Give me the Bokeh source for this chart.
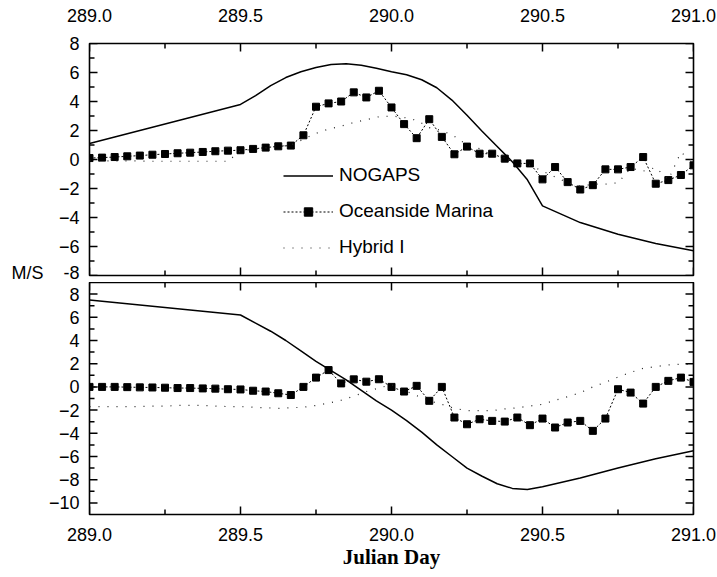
from bokeh.plotting import figure
from bokeh.layouts import column
from bokeh.models import FixedTicker, Legend, LegendItem, Range1d, NumeralTickFormatter
from bokeh.embed import file_html
from bokeh.resources import INLINE

# ---------------- data ----------------
hours = list(range(49))                      # hourly observations, day 289.0 .. 291.0
obs_days = [289 + h / 24 for h in hours]

x_lo, x_hi = 289.0, 291.0
x_ticks = [289.0, 289.5, 290.0, 290.5, 291.0]
x_minor = [289.25, 289.75, 290.25, 290.75]

top_lo, top_hi = -8, 8
top_yticks = [-8, -6, -4, -2, 0, 2, 4, 6, 8]
top_yminor = [-7, -5, -3, -1, 1, 3, 5, 7]
bot_lo, bot_hi = -11, 9
bot_yticks = [-10, -8, -6, -4, -2, 0, 2, 4, 6, 8]
bot_yminor = [-9, -7, -5, -3, -1, 1, 3, 5, 7]

nogaps_days = [289.0, 289.5, 289.55, 289.6, 289.65, 289.7, 289.75, 289.8, 289.85, 289.9,
               289.95, 290.0, 290.05, 290.1, 290.15, 290.2, 290.25, 290.3, 290.35, 290.4,
               290.45, 290.5, 290.625, 290.75, 290.875, 291.0]

# upper panel
top_nogaps = [1.1, 3.8, 4.4, 5.1, 5.65, 6.05, 6.35, 6.55, 6.6, 6.5,
              6.3, 6.05, 5.85, 5.5, 4.95, 4.1, 3.05, 1.95, 0.9, -0.15,
              -1.4, -3.2, -4.35, -5.15, -5.8, -6.3]
top_ocean = [0.1, 0.13, 0.17, 0.22, 0.27, 0.33, 0.38, 0.43, 0.47, 0.52,
             0.57, 0.61, 0.64, 0.73, 0.82, 0.91, 0.96, 1.67, 3.64, 3.87,
             4.0, 4.63, 4.28, 4.74, 3.59, 2.44, 1.47, 2.78, 1.56, 0.36,
             0.89, 0.4, 0.4, 0.06, -0.27, -0.27, -1.37, -0.52, -1.56, -2.07,
             -1.77, -0.68, -0.68, -0.52, 0.17, -1.67, -1.42, -1.07, -0.4]
top_hybrid = [-0.05, -0.1, -0.1, -0.1, -0.1, -0.12, -0.12, -0.12, -0.12, -0.12,
              -0.12, -0.12, 0.6, 0.7, 0.8, 0.9, 1.0, 1.4, 1.8, 2.1,
              2.3, 2.55, 2.75, 2.95, 3.0, 2.9, 2.7, 2.2, 2.0, 1.6,
              1.0, 0.75, 0.3, 0.1, -0.3, -0.4, -0.8, -1.2, -1.6, -1.85,
              -1.7, -1.7, -1.6, -0.6, -0.8, -0.55, -1.4, 0.5, -0.2]

# lower panel
bot_nogaps = [7.5, 6.2, 5.5, 4.8, 4.0, 3.1, 2.2, 1.4, 0.6, -0.3,
              -1.2, -2.0, -2.9, -3.9, -5.0, -6.0, -7.0, -7.7, -8.35, -8.75,
              -8.85, -8.6, -7.85, -7.0, -6.2, -5.5]
bot_ocean = [0.0, 0.0, 0.0, -0.02, -0.04, -0.05, -0.07, -0.1, -0.1, -0.13,
             -0.15, -0.2, -0.22, -0.33, -0.4, -0.55, -0.7, 0.0, 0.8, 1.45,
             0.3, 0.65, 0.45, 0.66, 0.0, -0.4, 0.09, -1.2, 0.0, -2.64,
             -3.22, -2.79, -2.93, -2.99, -2.64, -3.3, -2.73, -3.5, -3.07, -2.93,
             -3.79, -2.73, -0.2, -0.49, -1.44, 0.0, 0.52, 0.8, 0.43]
bot_hybrid = [-1.7, -1.7, -1.7, -1.7, -1.7, -1.65, -1.65, -1.6, -1.6, -1.6,
              -1.65, -1.7, -1.7, -1.75, -1.8, -1.85, -1.8, -1.75, -1.6, -1.4,
              -1.15, -0.8, -0.4, -0.1, 0.2, -0.3, -0.75, -1.2, -1.5, -1.85,
              -2.05, -2.05, -2.05, -1.9, -1.8, -1.65, -1.5, -1.15, -0.85, -0.5,
              0.0, 0.4, 0.85, 1.25, 1.6, 1.75, 1.9, 1.95, 1.95]

FONT = "Liberation Sans"
TICK_PX = "18px"
FRAME_W, FRAME_H = 604, 232      # plot-area size in px (used for tick lengths)


def style_axis(ax, standoff):
    ax.axis_line_color = None
    ax.major_tick_in = 0
    ax.major_tick_out = 0
    ax.minor_tick_in = 0
    ax.minor_tick_out = 0
    ax.major_label_text_font = FONT
    ax.major_label_text_font_size = TICK_PX
    ax.major_label_text_color = "black"
    ax.major_label_standoff = standoff


def draw_ticks(p, ylo, yhi, yticks, yminor):
    # inward tick marks on all four frame edges
    dy = (yhi - ylo) / FRAME_H
    dx = (x_hi - x_lo) / FRAME_W
    for xs, L in ((x_ticks, 8), (x_minor, 5)):
        n = len(xs)
        p.segment(x0=xs + xs, x1=xs + xs,
                  y0=[ylo] * n + [yhi] * n,
                  y1=[ylo + L * dy] * n + [yhi - L * dy] * n,
                  line_color="black", line_width=1.5)
    for ys, L in ((yticks, 8), (yminor, 5)):
        n = len(ys)
        p.segment(y0=ys + ys, y1=ys + ys,
                  x0=[x_lo] * n + [x_hi] * n,
                  x1=[x_lo + L * dx] * n + [x_hi - L * dx] * n,
                  line_color="black", line_width=1.5)


def make_panel(height, ylo, yhi, yticks, yminor, top, min_top, min_bottom):
    p = figure(width=717, height=height, output_backend="svg", toolbar_location=None,
               x_range=Range1d(x_lo, x_hi), y_range=Range1d(ylo, yhi),
               x_axis_location="above" if top else "below",
               min_border_left=89, min_border_right=24,
               min_border_top=min_top, min_border_bottom=min_bottom)
    p.xgrid.visible = False
    p.ygrid.visible = False
    p.outline_line_color = "black"
    p.outline_line_width = 1.6
    p.background_fill_color = "white"
    p.border_fill_color = "white"

    xa = p.xaxis[0]
    ya = p.yaxis[0]
    xa.ticker = FixedTicker(ticks=x_ticks, minor_ticks=x_minor)
    xa.formatter = NumeralTickFormatter(format="0.0")
    style_axis(xa, 22 if top else 13)
    ya.ticker = FixedTicker(ticks=yticks, minor_ticks=yminor)
    style_axis(ya, 10)
    draw_ticks(p, ylo, yhi, yticks, yminor)
    return p, xa, ya


# ---------------- upper panel ----------------
p1, xa1, ya1 = make_panel(282, top_lo, top_hi, top_yticks, top_yminor, True, 43, 7)
ya1.major_label_overrides = {-8: "M/S\u00a0\u00a0\u00a0 -8"}

r_n1 = p1.line(nogaps_days, top_nogaps, color="black", line_width=1.5)
r_ol1 = p1.line(obs_days, top_ocean, color="black", line_width=1, line_dash="2 2")
r_os1 = p1.scatter(obs_days, top_ocean, marker="square", size=7, color="black")
r_h1 = p1.line(obs_days, top_hybrid, color="#222222", line_width=1.2, line_dash="1 8")

legend = Legend(items=[LegendItem(label="NOGAPS", renderers=[r_n1]),
                       LegendItem(label="Oceanside Marina", renderers=[r_ol1, r_os1]),
                       LegendItem(label="Hybrid I", renderers=[r_h1])],
                location=(194, 17), padding=0, margin=0, spacing=14,
                glyph_width=50, glyph_height=21, label_height=21, label_standoff=6,
                label_text_font=FONT, label_text_font_size="19px", label_text_color="black",
                background_fill_alpha=0, border_line_color=None)
p1.add_layout(legend)

# ---------------- lower panel ----------------
p2, xa2, ya2 = make_panel(295, bot_lo, bot_hi, bot_yticks, bot_yminor, False, 0, 63)
xa2.axis_label = "Julian Day"
xa2.axis_label_text_font = "Liberation Serif"
xa2.axis_label_text_font_style = "bold"
xa2.axis_label_text_font_size = "21px"
xa2.axis_label_text_color = "black"
xa2.axis_label_standoff = 1

p2.line(nogaps_days, bot_nogaps, color="black", line_width=1.5)
p2.line(obs_days, bot_ocean, color="black", line_width=1, line_dash="2 2")
p2.scatter(obs_days, bot_ocean, marker="square", size=7, color="black")
p2.line(obs_days, bot_hybrid, color="#222222", line_width=1.2, line_dash="1 8")

layout = column(p1, p2, spacing=0)
open("out.html", "w").write(file_html(layout, INLINE))
